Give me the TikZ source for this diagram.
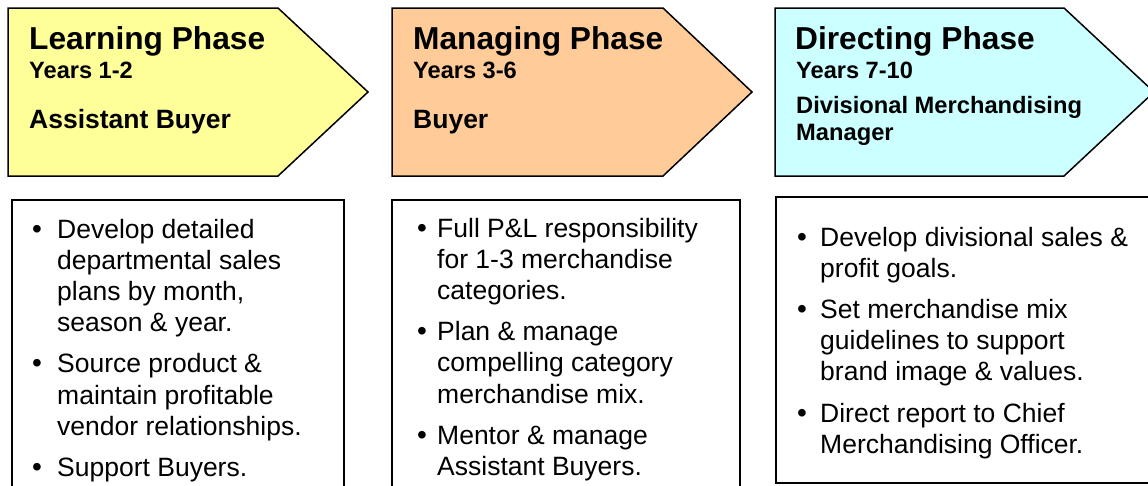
\documentclass[tikz,border=0pt]{standalone}
\usepackage{fontspec}
\setmainfont{Liberation Sans}
\definecolor{pyellow}{HTML}{FFFF99}
\definecolor{porange}{HTML}{FFCC99}
\definecolor{pcyan}{HTML}{CCFFFF}
\begin{document}
\begin{tikzpicture}[x=1pt,y=-1pt,
  phase/.style={draw=black,line width=1.5pt,line join=miter},
  listbox/.style={draw=black,line width=2pt},
  ttl/.style={anchor=base west,inner sep=0pt,font=\fontsize{31.7}{36}\selectfont\bfseries},
  yrs/.style={anchor=base west,inner sep=0pt,font=\fontsize{23.6}{27}\selectfont\bfseries},
  role/.style={anchor=base west,inner sep=0pt,font=\fontsize{26.5}{30}\selectfont\bfseries},
  rolesm/.style={anchor=base west,inner sep=0pt,font=\fontsize{23.7}{27}\selectfont\bfseries},
  itm/.style={anchor=base west,inner sep=0pt,font=\fontsize{26.5}{31}\selectfont},
  dot/.style={anchor=base,inner sep=0pt,font=\fontsize{28}{31}\selectfont}]
\useasboundingbox (0,0) rectangle (1148,485);
\clip (0,0) rectangle (1148,485);
\fill[white] (0,0) rectangle (1148,485);

% phase arrows
\draw[phase,fill=pyellow] (8,8) -- (278,8) -- (368,92) -- (278,176) -- (8,176) -- cycle;
\draw[phase,fill=porange] (392,8) -- (663,8) -- (752,92) -- (663,176) -- (392,176) -- cycle;
\draw[phase,fill=pcyan] (775,8) -- (1064,8) -- (1154,92) -- (1064,176) -- (775,176) -- cycle;

\node[ttl] (t1) at (29,49) {Learning Phase};
\node[yrs] (y1) at (29,78) {Years 1-2};
\node[role] (r1) at (29,128) {Assistant Buyer};

\node[ttl] (t2) at (413,49) {Managing Phase};
\node[yrs] (y2) at (413,78) {Years 3-6};
\node[role] (r2) at (413,128) {Buyer};

\node[ttl] (t3) at (795,49) {Directing Phase};
\node[yrs] (y3) at (796,78) {Years 7-10};
\node[rolesm] (r3a) at (796,113) {Divisional Merchandising};
\node[rolesm] (r3b) at (796,140) {Manager};

% list boxes
\draw[listbox] (12,520) -- (12,200) -- (344,200) -- (344,520);
\draw[listbox] (392,520) -- (392,200) -- (740,200) -- (740,520);
\draw[listbox] (1160,197) -- (776,197) -- (776,483) -- (1160,483);

% box 1
\node[dot] (d1a) at (37,238) {\textbullet};
\foreach \t [count=\i from 0] in {Develop detailed,departmental sales,{plans by month,},season \& year.}
  \node[itm] (l1a\i) at (57,{238+31.2*\i}) {\t};
\node[dot] (d1b) at (37,372.8) {\textbullet};
\foreach \t [count=\i from 0] in {Source product \&,maintain profitable,vendor relationships.}
  \node[itm] (l1b\i) at (57,{372.8+31.2*\i}) {\t};
\node[dot] (d1c) at (37,476.4) {\textbullet};
\node[itm] (l1c0) at (57,476.4) {Support Buyers.};

% box 2
\node[dot] (d2a) at (422,237) {\textbullet};
\foreach \t [count=\i from 0] in {Full P\&L responsibility,for 1-3 merchandise,categories.}
  \node[itm] (l2a\i) at (437,{237+31.2*\i}) {\t};
\node[dot] (d2b) at (422,340.6) {\textbullet};
\foreach \t [count=\i from 0] in {Plan \& manage,compelling category,merchandise mix.}
  \node[itm] (l2b\i) at (437,{340.6+31.2*\i}) {\t};
\node[dot] (d2c) at (422,444.2) {\textbullet};
\foreach \t [count=\i from 0] in {Mentor \& manage,Assistant Buyers.}
  \node[itm] (l2c\i) at (437,{444.2+31.2*\i}) {\t};

% box 3
\node[dot] (d3a) at (802,246) {\textbullet};
\foreach \t [count=\i from 0] in {Develop divisional sales \&,profit goals.}
  \node[itm] (l3a\i) at (820,{246+31.2*\i}) {\t};
\node[dot] (d3b) at (802,318.4) {\textbullet};
\foreach \t [count=\i from 0] in {Set merchandise mix,guidelines to support,brand image \& values.}
  \node[itm] (l3b\i) at (820,{318.4+31.2*\i}) {\t};
\node[dot] (d3c) at (802,422) {\textbullet};
\foreach \t [count=\i from 0] in {Direct report to Chief,Merchandising Officer.}
  \node[itm] (l3c\i) at (820,{422+31.2*\i}) {\t};
\end{tikzpicture}
\end{document}
